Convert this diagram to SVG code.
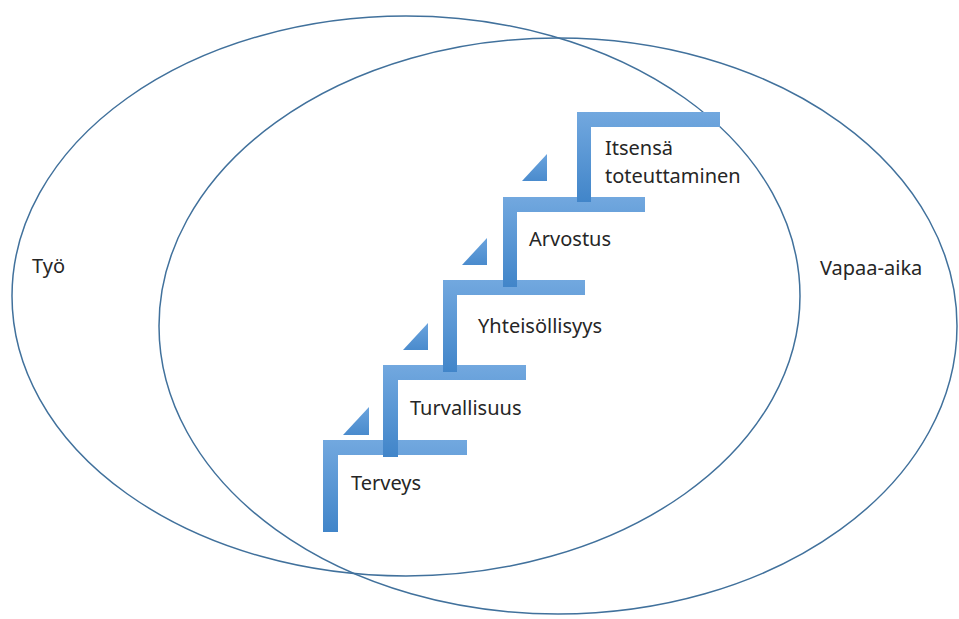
<svg xmlns="http://www.w3.org/2000/svg" width="959" height="619" viewBox="0 0 959 619">
<defs>
<linearGradient id="stepGrad" x1="0" y1="0" x2="0" y2="1">
<stop offset="0" stop-color="#72a8df"/>
<stop offset="1" stop-color="#4185c9"/>
</linearGradient>
<linearGradient id="triGrad" x1="0" y1="0" x2="0" y2="1">
<stop offset="0" stop-color="#6aa3dd"/>
<stop offset="1" stop-color="#4a8bcd"/>
</linearGradient>
</defs>
<style>
.ring{fill:none;stroke:#41719c;stroke-width:1.5}
.step{fill:url(#stepGrad)}
.tri{fill:url(#triGrad)}
.lbl{font-family:"Noto Sans","Open Sans","Liberation Sans",sans-serif;font-size:20px;fill:#262626}
</style>
<rect width="959" height="619" fill="#ffffff"/>
<g id="tyo">
<ellipse class="ring" cx="406" cy="296" rx="394" ry="280"/>
<text class="lbl" x="32" y="273">Työ</text>
</g>
<g id="vapaa-aika">
<ellipse class="ring" cx="558" cy="326" rx="399" ry="288"/>
<text class="lbl" x="820" y="275">Vapaa-aika</text>
</g>
<g id="connectors"/>
<g id="terveys">
<path class="step" d="M323,440 H467 V455 H338 V532 H323 Z"/>
<polygon class="tri" points="343,435 369,435 369,407"/>
<text class="lbl" x="351" y="490">Terveys</text>
</g>
<g id="turvallisuus">
<path class="step" d="M383,365 H526 V380 H398 V457 H383 Z"/>
<polygon class="tri" points="403,350 428,350 428,323"/>
<text class="lbl" x="410" y="415">Turvallisuus</text>
</g>
<g id="yhteisollisyys">
<path class="step" d="M443,280 H585 V295 H457 V372 H443 Z"/>
<polygon class="tri" points="462,265 487,265 487,238"/>
<text class="lbl" x="478" y="333">Yhteisöllisyys</text>
</g>
<g id="arvostus">
<path class="step" d="M503,197 H645 V212 H517 V287 H503 Z"/>
<polygon class="tri" points="522,181 547,181 547,154"/>
<text class="lbl" x="529" y="246">Arvostus</text>
</g>
<g id="itsensa-toteuttaminen">
<path class="step" d="M577,112 H720 V127 H591 V202 H577 Z"/>
<text class="lbl" x="605" y="155">Itsensä</text>
<text class="lbl" x="605" y="183">toteuttaminen</text>
</g>
</svg>
